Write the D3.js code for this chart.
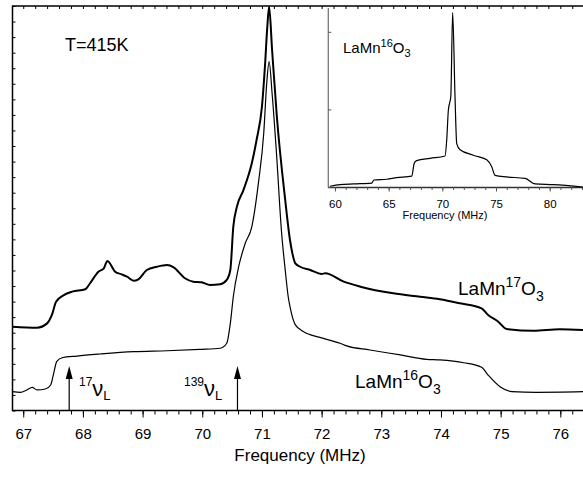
<!DOCTYPE html>
<meta charset="utf-8">
<script src="https://d3js.org/d3.v7.min.js"></script>
<style>
body { margin: 0; background: #fff; }
text { font-family: "Liberation Sans", Arial, sans-serif; fill: #000; }
.curve { fill: none; stroke: #000; }
</style>
<svg width="583" height="477"></svg>
<script>

// main spectra (MHz, arbitrary units)
var freq17 = [66.82, 67.23, 67.40, 67.48, 67.55, 67.68, 67.82, 68.04, 68.12, 68.26, 68.35, 68.41,
  68.54, 68.65, 68.74, 68.85, 68.93, 69.07, 69.24, 69.41, 69.52, 69.71, 69.85, 69.99, 70.13, 70.30,
  70.41, 70.47, 70.52, 70.58, 70.69, 70.83, 70.91, 71.00, 71.05, 71.09, 71.12, 71.17, 71.25, 71.39,
  71.47, 71.51, 71.56, 71.64, 71.81, 72.00, 72.06, 72.37, 72.65, 73.20, 73.65, 73.98, 74.32, 74.68,
  74.79, 74.96, 75.10, 75.55, 75.99, 76.38];
var int17 = [5.39, 5.32, 5.60, 6.14, 6.99, 7.42, 7.64, 7.79, 8.18, 8.92, 9.14, 9.61,
  8.92, 8.75, 8.60, 8.34, 8.43, 9.03, 9.24, 9.35, 9.20, 8.50, 8.28, 8.24, 8.07, 8.11,
  8.39, 9.03, 11.81, 13.10, 14.17, 15.89, 17.39, 19.53, 22.10, 24.67, 25.97, 23.17, 18.88, 13.53,
  10.96, 10.10, 9.46, 9.24, 9.03, 8.77, 8.82, 8.28, 7.96, 7.53, 7.31, 7.15, 6.89, 6.57,
  6.14, 5.71, 5.24, 5.13, 5.22, 5.17];

var freq16 = [66.82, 66.95, 67.06, 67.15, 67.23, 67.37, 67.46, 67.51, 67.56, 67.65, 67.90, 68.29,
  68.85, 69.41, 69.96, 70.30, 70.41, 70.47, 70.52, 70.61, 70.72, 70.83, 70.94, 71.03, 71.08, 71.12,
  71.17, 71.24, 71.33, 71.39, 71.44, 71.47, 71.56, 71.70, 71.97, 72.31, 72.42, 72.81, 73.32, 73.76,
  73.98, 74.38, 74.68, 74.79, 74.99, 75.19, 75.60, 76.38];
var int16 = [1.21, 1.17, 1.32, 1.49, 1.32, 1.38, 1.64, 2.39, 3.14, 3.39, 3.50, 3.63,
  3.78, 3.84, 3.93, 4.00, 4.32, 5.60, 7.31, 9.24, 10.75, 11.81, 14.60, 17.82, 21.03, 22.42,
  20.39, 16.74, 11.39, 9.03, 7.31, 6.67, 5.50, 5.06, 4.70, 4.32, 4.15, 3.89, 3.57, 3.29,
  3.25, 3.07, 2.78, 2.28, 1.53, 1.21, 1.17, 1.21];

// inset, wide scan of LaMn16O3
var freqInset = [59.53, 60.47, 61.71, 63.42, 63.63, 64.82, 65.75, 67.15, 67.39, 67.61, 68.85, 70.25,
  70.41, 70.56, 70.79, 70.96, 71.18, 71.34, 71.65, 72.89, 74.14, 74.60, 74.91, 76.00, 77.71, 78.64,
  80.34, 83.11];
var intInset = [0.01, 0.03, 0.04, 0.05, 0.09, 0.10, 0.12, 0.14, 0.31, 0.34, 0.37, 0.40,
  0.61, 0.99, 1.17, 2.25, 1.17, 0.56, 0.48, 0.41, 0.35, 0.26, 0.15, 0.13, 0.11, 0.04,
  0.03, 0.00];

var arrowFreqs = [67.77, 70.59];
var mainTicks = [67, 68, 69, 70, 71, 72, 73, 74, 75, 76];
var insetTicks = [60, 65, 70, 75, 80];

var svg = d3.select("svg");

var x = d3.scaleLinear().domain([66.82, 76.38]).range([12.5, 583]);
var y = d3.scaleLinear().domain([0, 26]).range([410.5, 6]);

// frame
svg.append("rect")
    .attr("x", 12.5).attr("y", 6)
    .attr("width", 600).attr("height", 404.5)
    .attr("fill", "none").attr("stroke", "#000").attr("stroke-width", 1.5);

// bottom axis: minor + major
svg.append("g")
    .attr("transform", "translate(0,410.5)")
    .call(d3.axisBottom(x).tickValues(x.ticks(50)).tickSize(4).tickFormat(""))
    .call(g => g.select(".domain").remove());
svg.append("g")
    .attr("transform", "translate(0,410.5)")
    .call(d3.axisBottom(x).tickValues(mainTicks).tickSize(7).tickPadding(11).tickFormat(d3.format("d")))
    .call(g => g.select(".domain").remove())
    .selectAll("text").style("font-size", "15px");

// top axis ticks (inside)
svg.append("g")
    .attr("transform", "translate(0,6)")
    .call(d3.axisBottom(x).tickValues(x.ticks(50)).tickSize(3).tickFormat(""))
    .call(g => g.select(".domain").remove());

// left axis ticks (inside, no labels)
svg.append("g")
    .attr("transform", "translate(12.5,0)")
    .call(d3.axisRight(y).ticks(26).tickSize(3).tickFormat(""))
    .call(g => g.select(".domain").remove());

svg.selectAll(".tick line").attr("stroke", "#000").attr("stroke-width", 1);

svg.append("text")
    .attr("x", 300).attr("y", 461)
    .attr("text-anchor", "middle")
    .style("font-size", "17px")
    .text("Frequency (MHz)");

var line = d3.line()
    .x(function(d) { return x(d[0]); })
    .y(function(d) { return y(d[1]); })
    .curve(d3.curveMonotoneX);

svg.append("path")
    .datum(d3.zip(freq17, int17))
    .attr("class", "curve")
    .attr("stroke-width", 2)
    .attr("d", line);

svg.append("path")
    .datum(d3.zip(freq16, int16))
    .attr("class", "curve")
    .attr("stroke-width", 1.2)
    .attr("d", line);

// arrows
arrowFreqs.forEach(function(f) {
  var ax = x(f);
  svg.append("line")
      .attr("x1", ax).attr("x2", ax)
      .attr("y1", 410).attr("y2", 372)
      .attr("stroke", "#000").attr("stroke-width", 1.2);
  svg.append("path")
      .attr("d", "M" + ax + ",366L" + (ax - 3.5) + ",379L" + (ax + 3.5) + ",379Z")
      .attr("fill", "#000");
});

// text with super/subscripts
function richText(x0, y0, parts) {
  var t = svg.append("text").attr("x", x0).attr("y", y0);
  var cur = 0;
  parts.forEach(function(p) {
    t.append("tspan")
        .attr("dy", p.off - cur)
        .style("font-size", p.size + "px")
        .text(p.t);
    cur = p.off;
  });
  return t;
}

richText(65, 51, [{t: "T=415K", size: 18, off: 0}]);

richText(458, 295, [
  {t: "LaMn", size: 19, off: 0}, {t: "17", size: 14, off: -8},
  {t: "O", size: 19, off: 0}, {t: "3", size: 14, off: 6}]);

richText(355, 388, [
  {t: "LaMn", size: 19, off: 0}, {t: "16", size: 14, off: -8},
  {t: "O", size: 19, off: 0}, {t: "3", size: 14, off: 6}]);

richText(79, 396, [
  {t: "17", size: 12, off: -10}, {t: "ν", size: 22, off: 0}, {t: "L", size: 13, off: 4}]);

richText(184, 396, [
  {t: "139", size: 12, off: -10}, {t: "ν", size: 22, off: 0}, {t: "L", size: 13, off: 4}]);

// inset
var xi = d3.scaleLinear().domain([59.38, 83.1]).range([328.3, 583]);
var yi = d3.scaleLinear().domain([0, 2.32]).range([187, 7]);

var inset = svg.append("g");

inset.append("line")
    .attr("x1", 328.3).attr("x2", 328.3).attr("y1", 8).attr("y2", 187.5)
    .attr("stroke", "#777").attr("stroke-width", 1.3);
inset.append("line")
    .attr("x1", 328.3).attr("x2", 583).attr("y1", 187.5).attr("y2", 187.5)
    .attr("stroke", "#333").attr("stroke-width", 1.3);

inset.append("g")
    .attr("transform", "translate(0,187.5)")
    .call(d3.axisBottom(xi).tickValues(xi.ticks(25)).tickSize(2.5).tickFormat(""))
    .call(g => g.select(".domain").remove());
inset.append("g")
    .attr("transform", "translate(0,187.5)")
    .call(d3.axisBottom(xi).tickValues(insetTicks).tickSize(4).tickPadding(8).tickFormat(d3.format("d")))
    .call(g => g.select(".domain").remove())
    .selectAll("text").style("font-size", "11.5px");
inset.append("g")
    .attr("transform", "translate(328.3,0)")
    .call(d3.axisRight(yi).tickValues([0, 1, 2]).tickSize(3).tickFormat(""))
    .call(g => g.select(".domain").remove());
inset.selectAll(".tick line").attr("stroke", "#555").attr("stroke-width", 1);

inset.append("text")
    .attr("x", 445).attr("y", 219)
    .attr("text-anchor", "middle")
    .style("font-size", "11px")
    .text("Frequency (MHz)");

var lineInset = d3.line()
    .x(function(d) { return xi(d[0]); })
    .y(function(d) { return yi(d[1]); })
    .curve(d3.curveMonotoneX);

inset.append("path")
    .datum(d3.zip(freqInset, intInset))
    .attr("class", "curve")
    .attr("stroke-width", 1.2)
    .attr("d", lineInset);

richText(343, 53, [
  {t: "LaMn", size: 15, off: 0}, {t: "16", size: 11, off: -6},
  {t: "O", size: 15, off: 0}, {t: "3", size: 11, off: 4}]);

</script>
